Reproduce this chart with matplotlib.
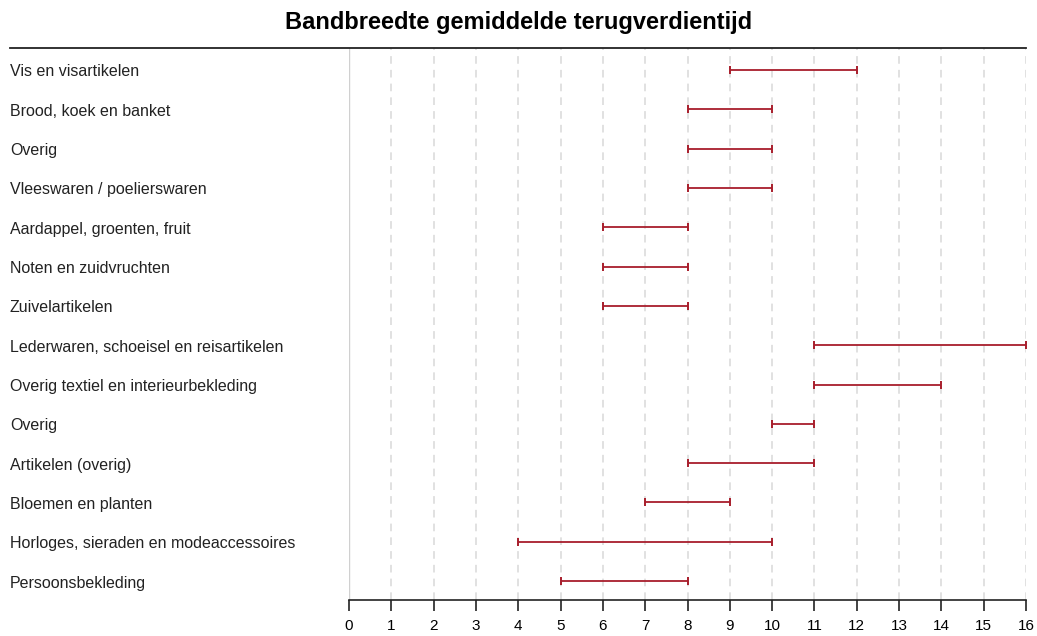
import matplotlib
matplotlib.use("Agg")
import matplotlib.pyplot as plt
import matplotlib.transforms as mtransforms
from matplotlib.lines import Line2D

plt.rcParams['font.family'] = ['Liberation Sans', 'DejaVu Sans']

# data: range of average payback time per category (top to bottom)
categories = [
    "Vis en visartikelen",
    "Brood, koek en banket",
    "Overig",
    "Vleeswaren / poelierswaren",
    "Aardappel, groenten, fruit",
    "Noten en zuidvruchten",
    "Zuivelartikelen",
    "Lederwaren, schoeisel en reisartikelen",
    "Overig textiel en interieurbekleding",
    "Overig",
    "Artikelen (overig)",
    "Bloemen en planten",
    "Horloges, sieraden en modeaccessoires",
    "Persoonsbekleding",
]
low = [9, 8, 8, 8, 6, 6, 6, 11, 11, 10, 8, 7, 4, 5]
high = [12, 10, 10, 10, 8, 8, 8, 16, 14, 11, 11, 9, 10, 8]
xticks = list(range(0, 17))

W, H = 1037, 636
fig = plt.figure(figsize=(W / 100, H / 100), dpi=100)
ax = fig.add_axes([349 / W, 1 - 600 / H, (1026 - 349) / W, (600 - 48) / H])

col = '#A81E2C'
ypos = list(range(len(categories)))
mid = [(l + h) / 2 for l, h in zip(low, high)]
err = [[m - l for m, l in zip(mid, low)], [h - m for h, m in zip(high, mid)]]
ax.errorbar(mid, ypos, xerr=err, fmt='none', ecolor=col, elinewidth=1.3,
            capsize=3, capthick=1.4, zorder=3)

ax.set_xlim(0, 16)
ax.set_ylim(13.48, -0.56)

# grid
for x in xticks[1:]:
    ax.axvline(x, color='#d8d8d8', lw=1.1, ls=(0, (5, 4)), zorder=1)
ax.axvline(0, color='#d0d0d0', lw=1, zorder=1)

for s in ['top', 'right', 'left']:
    ax.spines[s].set_visible(False)
ax.spines['bottom'].set_color('#222222')
ax.spines['bottom'].set_linewidth(1.2)
ax.set_yticks([])
ax.set_xticks(xticks)
ax.tick_params(axis='x', length=8, width=1.2, color='#222222', labelsize=11, pad=6)

# category labels, left aligned at figure edge
trans = mtransforms.blended_transform_factory(fig.transFigure, ax.transData)
for y, c in zip(ypos, categories):
    ax.text(10 / W, y + 0.05, c, transform=trans, ha='left', va='center',
            fontsize=11.5, color='#222222', clip_on=False)

# top rule and title
fig.add_artist(Line2D([10 / W, 1026 / W], [1 - 48 / H, 1 - 48 / H], color='#222222', lw=1.3))
fig.text(519 / W, 1 - 23 / H, "Bandbreedte gemiddelde terugverdientijd",
         ha='center', va='center', fontsize=17, fontweight='bold')

fig.savefig("out.png", dpi=100)
